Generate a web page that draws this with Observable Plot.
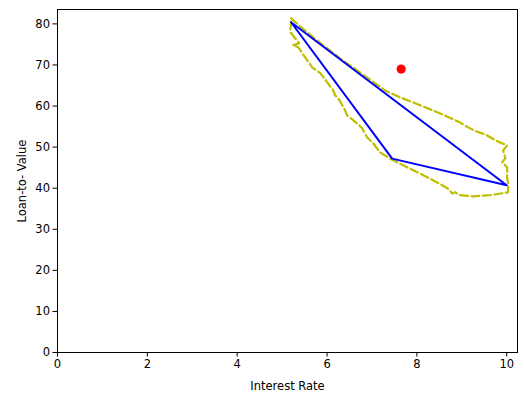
<!DOCTYPE html>
<html>
<head>
<meta charset="utf-8">
<script src="https://cdn.jsdelivr.net/npm/d3@7"></script>
<script src="https://cdn.jsdelivr.net/npm/@observablehq/plot@0.6"></script>
<style>
  html, body { margin: 0; padding: 0; background: #fff; }
</style>
</head>
<body>
<div id="chart"></div>
<script>
const contourX = [5.20, 5.40, 5.74, 6.29, 6.85, 7.29, 7.63, 8.07, 8.52, 8.96, 9.14, 9.30, 9.52, 9.74, 10.01,
  9.92, 9.97, 9.90, 10.01, 10.01, 10.03, 10.03,
  9.86, 9.63, 9.25, 8.96, 8.85, 8.79, 8.68, 8.45, 8.07, 7.78, 7.47, 7.18,
  7.03, 6.89, 6.78, 6.67, 6.45, 6.40, 6.25, 6.18, 6.14, 5.85, 5.67, 5.51, 5.36, 5.24, 5.38, 5.18, 5.20, 5.20];
const contourY = [81.4, 79.4, 76.3, 71.6, 67.3, 63.8, 62.1, 60.2, 58.2, 56.0, 54.8, 53.9, 53.1, 51.7, 50.4,
  49.2, 47.3, 46.3, 45.1, 42.6, 41.2, 39.0,
  38.7, 38.3, 38.0, 38.3, 39.0, 38.7, 40.0, 41.4, 43.6, 45.1, 46.8, 48.7,
  50.9, 52.4, 54.6, 55.8, 57.7, 59.0, 61.9, 62.6, 63.8, 68.0, 69.4, 71.9, 74.3, 74.8, 75.3, 78.0, 80.4, 81.4];
const triangleX = [5.20, 7.45, 10.0, 5.20];
const triangleY = [80.4, 47.2, 40.7, 80.4];
const pointX = [7.65];
const pointY = [69.0];
const xTicks = [0, 2, 4, 6, 8, 10];
const yTicks = [0, 10, 20, 30, 40, 50, 60, 70, 80];

const contour = contourX.map((x, i) => ({x, y: contourY[i]}));
const triangle = triangleX.map((x, i) => ({x, y: triangleY[i]}));
const points = pointX.map((x, i) => ({x, y: pointY[i]}));

const chart = Plot.plot({
  width: 524,
  height: 396,
  marginLeft: 57,
  marginRight: 7,
  marginTop: 9,
  marginBottom: 44,
  style: {fontFamily: "DejaVu Sans", fontSize: "11.5px", color: "#000", background: "#fff"},
  x: {domain: [0, 10.24]},
  y: {domain: [0, 83.5]},
  marks: [
    Plot.line(contour, {x: "x", y: "y", stroke: "#bfbf00", strokeWidth: 2.2, strokeDasharray: "8 3.5", curve: "linear"}),
    Plot.line(triangle, {x: "x", y: "y", stroke: "#0000ff", strokeWidth: 2}),
    Plot.dot(points, {x: "x", y: "y", r: 4.6, fill: "#ff0000", stroke: "none"}),
    Plot.frame({stroke: "#000", strokeWidth: 1}),
    Plot.axisX({ticks: xTicks, tickSize: 4.5, tickPadding: 3, fontSize: 11.5, label: "Interest Rate", labelAnchor: "center", labelArrow: "none", labelOffset: 37}),
    Plot.axisY({ticks: yTicks, tickSize: 4.5, tickPadding: 3, fontSize: 11.5, label: "Loan-to- Value", labelAnchor: "center", labelArrow: "none", labelOffset: 40})
  ]
});
document.getElementById("chart").appendChild(chart);
</script>
</body>
</html>
